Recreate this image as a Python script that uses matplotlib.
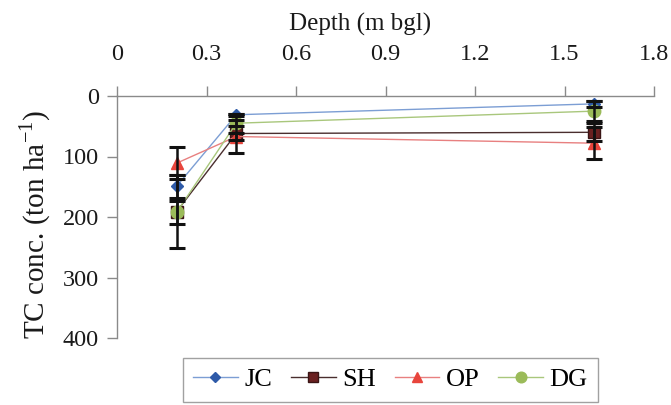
import matplotlib
matplotlib.use("Agg")
import matplotlib.pyplot as plt

plt.rcParams['font.family'] = ['Liberation Serif', 'DejaVu Serif']

depth = [0.2, 0.4, 1.6]
series = ["JC", "SH", "OP", "DG"]
tc_values = {
    "JC": [149, 31, 13],
    "SH": [191, 62, 60],
    "OP": [111, 67, 78],
    "DG": [192, 45, 25],
}
tc_errors = {
    "JC": [19, 2, 5],
    "SH": [60, 32, 15],
    "OP": [26, 6, 26],
    "DG": [19, 5, 17],
}
x_ticks = [0, 0.3, 0.6, 0.9, 1.2, 1.5, 1.8]
x_tick_labels = ["0", "0.3", "0.6", "0.9", "1.2", "1.5", "1.8"]
y_ticks = [0, 100, 200, 300, 400]

styles = {
    "JC": dict(marker="D", ms=6, mfc="#2E5AA8", mec="#2E5AA8", color="#7C9ED4"),
    "SH": dict(marker="s", ms=8, mfc="#6A2020", mec="#3A1515", color="#4A2E2E"),
    "OP": dict(marker="^", ms=8, mfc="#E8453C", mec="#E8453C", color="#E88080"),
    "DG": dict(marker="o", ms=9, mfc="#9BBB59", mec="#9BBB59", color="#A9C77C"),
}

fig = plt.figure(figsize=(6.71, 4.05), dpi=100)
ax = fig.add_axes([117 / 671, 1 - 338 / 405, 537 / 671, 242 / 405])

for name in series:
    st = styles[name]
    ax.plot(depth, tc_values[name], lw=1.0, label=name, zorder=3, **st)
    ax.errorbar(depth, tc_values[name], yerr=tc_errors[name], fmt="none",
                ecolor="#111111", elinewidth=1.8, capsize=6, capthick=2.2,
                zorder=4)

ax.set_xlim(0, 1.8)
ax.set_ylim(400, 0)
ax.set_xticks(x_ticks)
ax.set_xticklabels(x_tick_labels)
ax.set_yticks(y_ticks)
ax.xaxis.tick_top()
ax.xaxis.set_label_position("top")

for side in ("right", "bottom"):
    ax.spines[side].set_visible(False)
for side in ("left", "top"):
    ax.spines[side].set_color("#8a8a8a")
    ax.spines[side].set_linewidth(1.0)

ax.tick_params(axis="both", colors="#8a8a8a", labelcolor="#1a1a1a",
               labelsize=17.5, length=7, width=1.0, direction="out")
ax.tick_params(axis="x", pad=15)
ax.tick_params(axis="y", pad=6)

ax.set_xlabel("Depth (m bgl)", fontsize=18, color="#1a1a1a")
ax.xaxis.set_label_coords(0.452, 1.27)
ax.set_ylabel(r"TC conc. (ton ha$^{\mathregular{-1}}$)", fontsize=21,
              color="#1a1a1a")
ax.yaxis.set_label_coords(-0.12, 0.47)

leg = ax.legend(loc="upper left", bbox_to_anchor=(183 / 671, 1 - 358 / 405),
                bbox_transform=fig.transFigure, ncol=4, fontsize=19,
                frameon=True, fancybox=False, borderpad=0.38,
                handlelength=1.7, handletextpad=0.25, columnspacing=0.7,
                markerscale=0.85, borderaxespad=0)
leg.get_frame().set_edgecolor("#8a8a8a")
leg.get_frame().set_linewidth(1.0)

fig.savefig("out.png", dpi=100)
